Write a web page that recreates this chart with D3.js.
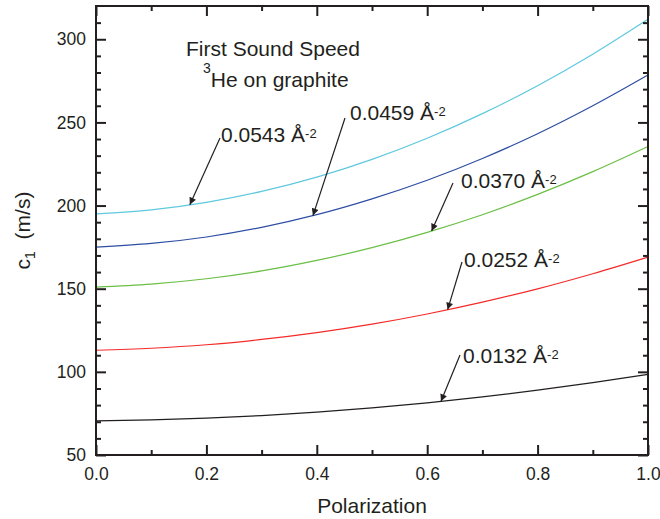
<!DOCTYPE html>
<html>
<head>
<meta charset="utf-8">
<script src="https://cdn.jsdelivr.net/npm/d3@7"></script>
<style>
body { margin: 0; background: #fff; }
text { font-family: "Liberation Sans", Arial, sans-serif; fill: #231f20; }
</style>
</head>
<body>
<svg width="660" height="519"></svg>
<script>
var svg = d3.select("svg"),
    width = +svg.attr("width"),
    height = +svg.attr("height");

// polarization grid
var pol = [0, 0.1, 0.2, 0.3, 0.4, 0.5, 0.6, 0.7, 0.8, 0.9, 1.0];

// first sound speed c1 (m/s)
var c0543 = [195, 197.4, 201.9, 208.5, 217.1, 227.8, 240.5, 255.3, 272.1, 291.0, 312];
var c0459 = [175, 177.2, 181.1, 186.9, 194.5, 204.0, 215.2, 228.3, 243.2, 260.0, 278.5];
var c0370 = [151, 152.8, 156.0, 160.7, 167.0, 174.7, 183.9, 194.5, 206.7, 220.4, 235.5];
var c0252 = [113, 114.2, 116.3, 119.5, 123.6, 128.7, 134.8, 141.9, 149.9, 159.0, 169];
var c0132 = [70.5, 71.1, 72.2, 73.7, 75.8, 78.3, 81.4, 84.9, 89.0, 93.5, 98.5];

// label text position (lx, ly), arrow start (sx, sy), arrow tip polarization (at)
var series = [
  {name: "0.0543", values: c0543, color: "#5ec8de", at: 0.17,  lx: 221, ly: 142, sx: 220, sy: 138},
  {name: "0.0459", values: c0459, color: "#2e4ea3", at: 0.393, lx: 350, ly: 120, sx: 345, sy: 118},
  {name: "0.0370", values: c0370, color: "#6abf45", at: 0.608, lx: 461, ly: 188, sx: 453, sy: 183},
  {name: "0.0252", values: c0252, color: "#f42a2a", at: 0.637, lx: 464, ly: 267, sx: 462, sy: 262},
  {name: "0.0132", values: c0132, color: "#231f20", at: 0.625, lx: 463, ly: 363, sx: 460, sy: 355}
];

var margin = {left: 96, top: 6, right: 12, bottom: 64};
var w = width - margin.left - margin.right,
    h = height - margin.top - margin.bottom;

var x = d3.scaleLinear().domain([0, 1]).range([0, w]);
var y = d3.scaleLinear().domain([50, 320]).range([h, 0]);

var g = svg.append("g").attr("transform", "translate(" + margin.left + "," + margin.top + ")");

svg.append("defs").append("marker")
  .attr("id", "arr")
  .attr("viewBox", "0 0 10 10")
  .attr("refX", 10).attr("refY", 5)
  .attr("markerWidth", 10).attr("markerHeight", 7)
  .attr("markerUnits", "userSpaceOnUse")
  .attr("orient", "auto")
  .append("path").attr("d", "M0,0L10,5L0,10Z").attr("fill", "#231f20");

var line = d3.line()
  .x(function(d, i) { return x(pol[i]); })
  .y(function(d) { return y(d); })
  .curve(d3.curveMonotoneX);

series.forEach(function(s) {
  g.append("path")
    .attr("d", line(s.values))
    .attr("fill", "none")
    .attr("stroke", s.color)
    .attr("stroke-width", 1.2);
});

// axes: ticks point inward
function styleAxis(sel) {
  sel.select(".domain").remove();
  sel.selectAll("line").attr("stroke", "#231f20").attr("stroke-width", 2);
  sel.selectAll("text").style("font-size", "17.5px").style("font-family", "'Liberation Sans', Arial, sans-serif").attr("fill", "#231f20");
}

var xMajor = [0, 0.2, 0.4, 0.6, 0.8, 1.0];
var xMinor = [0.1, 0.3, 0.5, 0.7, 0.9];
var yMajor = [50, 100, 150, 200, 250, 300];
var yMinor = d3.range(60, 320, 10).filter(function(v) { return v % 50 !== 0; });

g.append("g").attr("transform", "translate(0," + h + ")")
  .call(d3.axisBottom(x).tickValues(xMajor).tickFormat(d3.format(".1f")).tickSize(-10).tickPadding(12.5))
  .call(styleAxis);
g.append("g").attr("transform", "translate(0," + h + ")")
  .call(d3.axisBottom(x).tickValues(xMinor).tickFormat("").tickSize(-5))
  .call(styleAxis);
g.append("g")
  .call(d3.axisTop(x).tickValues(xMajor).tickFormat("").tickSize(-10))
  .call(styleAxis);
g.append("g")
  .call(d3.axisTop(x).tickValues(xMinor).tickFormat("").tickSize(-5))
  .call(styleAxis);

g.append("g")
  .call(d3.axisLeft(y).tickValues(yMajor).tickFormat(d3.format("d")).tickSize(-10).tickPadding(10))
  .call(styleAxis);
g.append("g")
  .call(d3.axisLeft(y).tickValues(yMinor).tickFormat("").tickSize(-5))
  .call(styleAxis);
g.append("g").attr("transform", "translate(" + w + ",0)")
  .call(d3.axisRight(y).tickValues(yMajor).tickFormat("").tickSize(-10))
  .call(styleAxis);
g.append("g").attr("transform", "translate(" + w + ",0)")
  .call(d3.axisRight(y).tickValues(yMinor).tickFormat("").tickSize(-5))
  .call(styleAxis);

g.append("rect")
  .attr("width", w).attr("height", h)
  .attr("fill", "none").attr("stroke", "#231f20").attr("stroke-width", 2);

// labels with arrows
series.forEach(function(s) {
  var i = d3.bisectLeft(pol, s.at);
  var t = (s.at - pol[i - 1]) / (pol[i] - pol[i - 1]);
  var v = s.values[i - 1] + t * (s.values[i] - s.values[i - 1]);
  var tx = margin.left + x(s.at), ty = margin.top + y(v);
  svg.append("line")
    .attr("x1", s.sx).attr("y1", s.sy)
    .attr("x2", tx).attr("y2", ty)
    .attr("stroke", "#231f20").attr("stroke-width", 1.2)
    .attr("marker-end", "url(#arr)");
  var txt = svg.append("text")
    .attr("x", s.lx).attr("y", s.ly)
    .style("font-size", "21px");
  txt.append("tspan").text(s.name + " \u00c5");
  txt.append("tspan").attr("dy", -4).style("font-size", "13px").text("-2");
});

svg.append("text")
  .attr("x", 186).attr("y", 56)
  .style("font-size", "21px")
  .text("First Sound Speed");
var sub = svg.append("text")
  .attr("x", 203).attr("y", 87)
  .style("font-size", "21px");
sub.append("tspan").attr("dy", -14).style("font-size", "14px").text("3");
sub.append("tspan").attr("dy", 14).text("He on graphite");

svg.append("text")
  .attr("x", margin.left + w / 2).attr("y", 513)
  .attr("text-anchor", "middle")
  .style("font-size", "21px")
  .text("Polarization");

var yl = svg.append("text")
  .attr("transform", "translate(30," + (margin.top + h / 2) + ") rotate(-90)")
  .attr("text-anchor", "middle")
  .style("font-size", "21px")
  .attr("xml:space", "preserve");
yl.append("tspan").text("c");
yl.append("tspan").attr("dy", 5).style("font-size", "14px").text("1");
yl.append("tspan").attr("dy", -5).text("  (m/s)");
</script>
</body>
</html>
